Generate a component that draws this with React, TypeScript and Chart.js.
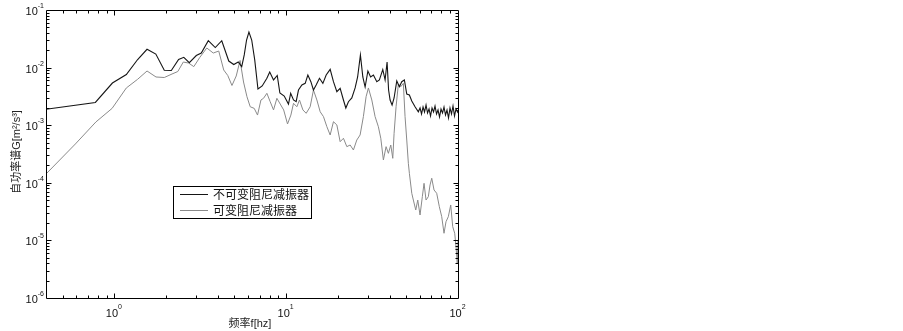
import React, { useEffect, useRef } from "react";
import { Chart, registerables } from "chart.js";

Chart.register(...registerables);

// ---------------- data ----------------
const seriesNames = ["不可变阻尼减振器", "可变阻尼减振器"];
const xTitle = "频率f[hz]";
const yTitle = "自功率谱G[m²/s³]";
const xTickExponents = [0, 1, 2];
const yTickExponents = [-6, -5, -4, -3, -2, -1];
const xRange = [0.4, 100];
const yRange = [1e-6, 1e-1];

// 不可变阻尼减振器 (dark line)
const fixedFreq = [
  0.4, 0.775, 0.974, 1.174, 1.366, 1.549, 1.743, 1.952, 2.145, 2.365,
  2.536, 2.729, 2.998, 3.205, 3.521, 3.866, 4.217, 4.632, 4.953, 5.26,
  5.51, 5.7, 5.88, 6.07, 6.3, 6.56, 6.85, 7.25, 7.72, 8.02,
  8.44, 8.87, 9.19, 9.74, 10.31, 10.62, 11.03, 11.43, 11.79, 12.34,
  12.9, 13.37, 13.92, 14.41, 14.94, 15.62, 16.35, 17.09, 18.03, 18.84,
  19.72, 20.61, 21.54, 22.24, 23.03, 24.1, 25.19, 26.05, 27.04, 27.93,
  28.8, 29.89, 31.0, 32.19, 33.68, 34.87, 36.49, 37.64, 38.66, 39.45,
  40.25, 41.34, 42.46, 44.02, 45.58, 47.07, 48.74, 50.32, 52.12, 53.82,
  56.23, 58.77,
  60.13, 61.35, 62.6, 63.86, 65.16, 66.48, 67.83, 69.2, 70.6, 72.04,
  73.5, 74.99, 76.51, 78.06, 79.64, 81.26, 82.9, 84.58, 86.3, 88.06,
  89.84, 91.66, 93.52, 95.43, 97.36, 99.33, 100,
];
const fixedPsd = [
  1.89e-3, 2.48e-3, 5.4e-3, 7.59e-3, 1.38e-2, 2.08e-2, 1.72e-2, 8.97e-3, 8.91e-3, 1.38e-2,
  1.51e-2, 1.22e-2, 1.62e-2, 1.79e-2, 2.93e-2, 2.23e-2, 2.93e-2, 1.3e-2, 1.13e-2, 1.25e-2,
  1.04e-2, 1.66e-2, 3.01e-2, 4.15e-2, 3.01e-2, 1.36e-2, 4.25e-3, 4.8e-3, 6.52e-3, 8.4e-3,
  6.1e-3, 7.3e-3, 3.62e-3, 3.21e-3, 2.33e-3, 3.58e-3, 2.74e-3, 2.56e-3, 4.08e-3, 4.99e-3,
  5.33e-3, 7.45e-3, 5.69e-3, 4.08e-3, 4.99e-3, 6.52e-3, 5.33e-3, 7.45e-3, 9.34e-3, 5.69e-3,
  3.82e-3, 4.37e-3, 2.74e-3, 1.99e-3, 2.56e-3, 2.97e-3, 4.43e-3, 6.87e-3, 1.66e-2, 6.87e-3,
  4.6e-3, 8.73e-3, 6.87e-3, 7.45e-3, 5.69e-3, 6.1e-3, 9.27e-3, 6.1e-3, 1.25e-2, 4.08e-3,
  2.74e-3, 2.24e-3, 2.97e-3, 5.85e-3, 4.66e-3, 5.69e-3, 6.1e-3, 3.48e-3, 3.34e-3, 2.63e-3,
  2.09e-3, 1.71e-3,
  1.99e-3, 1.565e-3, 2.07e-3, 1.695e-3, 2.243e-3, 1.628e-3, 1.911e-3, 1.444e-3, 1.99e-3, 1.695e-3,
  2.154e-3, 1.565e-3, 1.836e-3, 1.388e-3, 1.911e-3, 1.628e-3, 2.07e-3, 1.503e-3, 1.836e-3, 1.334e-3,
  1.99e-3, 1.565e-3, 2.154e-3, 1.444e-3, 1.911e-3, 1.695e-3, 1.836e-3,
];

// 可变阻尼减振器 (gray line)
const variableFreq = [
  0.4, 0.593, 0.781, 0.97, 1.174, 1.366, 1.549, 1.747, 1.952, 2.165,
  2.34, 2.519, 2.704, 2.9, 3.14, 3.45, 3.764, 4.05, 4.33, 4.57,
  4.835, 5.12, 5.39, 5.647, 5.91, 6.175, 6.516, 6.81, 7.13, 7.38,
  7.72, 8.07, 8.44, 8.83, 9.23, 9.67, 10.18, 10.65, 11.03, 11.54,
  11.95, 12.51, 13.07, 13.79, 14.41, 15.09, 15.77, 16.48, 17.25, 18.03,
  18.84, 19.72, 20.61, 21.54, 22.54, 23.56, 24.62, 25.76, 26.93, 28.14,
  29.18, 30.1, 31.5, 32.92, 34.4, 35.53, 36.79, 38.14, 39.34, 40.62,
  41.72, 42.46, 43.61, 44.98, 46.44, 48.08, 49.19, 50.32, 51.41, 52.12,
  53.82, 54.97, 56.77, 58.31, 60.13, 62.0, 63.43, 65.16, 67.2, 68.75,
  70.33, 72.53, 75.17, 77.87, 80.4, 82.9, 85.16, 87.83, 90.71, 93.16,
  95.68, 97.36, 99.06, 100,
];
const variablePsd = [
  1.42e-4, 4.72e-4, 1.14e-3, 1.96e-3, 4.43e-3, 6.27e-3, 8.73e-3, 6.87e-3, 6.73e-3, 7.74e-3,
  8.55e-3, 1.25e-2, 1.2e-2, 1.04e-2, 1.5e-2, 2.19e-2, 1.79e-2, 1.94e-2, 9.08e-3, 7.3e-3,
  4.89e-3, 7.15e-3, 1.33e-2, 5.62e-3, 3.13e-3, 2.09e-3, 1.96e-3, 1.5e-3, 2.74e-3, 2.93e-3,
  3.58e-3, 2.56e-3, 1.84e-3, 2.93e-3, 2.33e-3, 1.84e-3, 1.05e-3, 1.5e-3, 2.4e-3, 2.09e-3,
  2.74e-3, 1.84e-3, 1.61e-3, 2.09e-3, 4.08e-3, 2.74e-3, 1.71e-3, 1.41e-3, 9.42e-4, 6.76e-4,
  1.15e-3, 1.01e-3, 5.17e-4, 5.93e-4, 4.24e-4, 4.53e-4, 3.71e-4, 5.53e-4, 6.76e-4, 1.41e-3,
  3.13e-3, 4.43e-3, 2.74e-3, 1.41e-3, 9.42e-4, 5.93e-4, 2.49e-4, 4.24e-4, 3.25e-4, 4.53e-4,
  2.66e-4, 7.23e-4, 2.09e-3, 5.19e-3, 4.66e-3, 5.33e-3, 1.41e-3, 5.53e-4, 2.18e-4, 1.46e-4,
  6.58e-5, 5.02e-5, 3.37e-5, 5.02e-5, 2.76e-5, 5.74e-5, 9.8e-5, 5.02e-5, 5.74e-5, 9.16e-5,
  1.2e-4, 7.5e-5, 6.58e-5, 3.85e-5, 2.58e-5, 1.33e-5, 2.11e-5, 2.58e-5, 4.12e-5, 1.73e-5,
  1.33e-5, 7.78e-6, 4.0e-6, 1.02e-5,
];

const seriesColors = ["#151515", "#8a8a8a"];

// ---------------- drawing helpers ----------------
const LATIN = "'Liberation Sans', Arial, sans-serif";
const MIXED = "'Liberation Sans', 'Noto Sans CJK SC', sans-serif";
const CJK = "'Noto Sans CJK SC', sans-serif";

function minorValues(min: number, max: number): number[] {
  const out: number[] = [];
  const e0 = Math.floor(Math.log10(min)) - 1;
  const e1 = Math.ceil(Math.log10(max)) + 1;
  for (let e = e0; e <= e1; e++) {
    for (let m = 1; m <= 9; m++) {
      const v = m * Math.pow(10, e);
      if (v > min * 1.0001 && v < max * 0.9999) out.push(v);
    }
  }
  return out;
}

function expText(e: number) {
  return String(e).replace("-", "-");
}

const decorPlugin = {
  id: "matlabDecor",
  afterDraw(chart: any) {
    const ctx: CanvasRenderingContext2D = chart.ctx;
    const { left, right, top, bottom } = chart.chartArea;
    const xs = chart.scales.x;
    const ys = chart.scales.y;
    const L = Math.round(left) + 0.5;
    const R = Math.round(right) + 0.5;
    const T = Math.round(top) + 0.5;
    const B = Math.round(bottom) + 0.5;

    ctx.save();
    ctx.strokeStyle = "#000";
    ctx.lineWidth = 1;
    ctx.beginPath();
    ctx.rect(L, T, R - L, B - T);
    ctx.stroke();

    const majorX = xTickExponents.map((e) => Math.pow(10, e));
    const majorY = yTickExponents.map((e) => Math.pow(10, e));
    const isMajor = (v: number, list: number[]) =>
      list.some((m) => Math.abs(v / m - 1) < 1e-6);

    // x ticks (bottom + top), inward
    ctx.beginPath();
    minorValues(xRange[0], xRange[1]).forEach((v) => {
      const len = isMajor(v, majorX) ? 5 : 3;
      const px = Math.round(xs.getPixelForValue(v)) + 0.5;
      ctx.moveTo(px, B);
      ctx.lineTo(px, B - len);
      ctx.moveTo(px, T);
      ctx.lineTo(px, T + len);
    });
    // y ticks (left + right), inward
    minorValues(yRange[0], yRange[1]).forEach((v) => {
      const len = isMajor(v, majorY) ? 5 : 3;
      const py = Math.round(ys.getPixelForValue(v)) + 0.5;
      ctx.moveTo(L, py);
      ctx.lineTo(L + len, py);
      ctx.moveTo(R, py);
      ctx.lineTo(R - len, py);
    });
    ctx.stroke();

    // tick labels
    ctx.fillStyle = "#111";
    const baseFont = "11px " + LATIN;
    const supFont = "7px " + LATIN;
    xTickExponents.forEach((e) => {
      const px = xs.getPixelForValue(Math.pow(10, e));
      ctx.font = baseFont;
      const w10 = ctx.measureText("10").width;
      ctx.font = supFont;
      const we = ctx.measureText(expText(e)).width;
      const x0 = px - (w10 + we) / 2 - 0.5;
      ctx.textAlign = "left";
      ctx.textBaseline = "alphabetic";
      ctx.font = baseFont;
      ctx.fillText("10", x0, 317);
      ctx.font = supFont;
      ctx.fillText(expText(e), x0 + w10, 309);
    });
    yTickExponents.forEach((e) => {
      const py = ys.getPixelForValue(Math.pow(10, e));
      ctx.font = supFont;
      const we = ctx.measureText(expText(e)).width;
      const xEnd = 44;
      ctx.textAlign = "left";
      ctx.textBaseline = "alphabetic";
      ctx.fillText(expText(e), xEnd - we, py - 2);
      ctx.font = baseFont;
      const w10 = ctx.measureText("10").width;
      ctx.fillText("10", xEnd - we - w10, py + 5);
    });

    // axis titles
    ctx.fillStyle = "#222";
    ctx.font = "11px " + MIXED;
    ctx.textAlign = "center";
    ctx.textBaseline = "middle";
    ctx.fillText(xTitle, (left + right) / 2 - 2, 324);
    ctx.save();
    ctx.translate(17, 152);
    ctx.rotate(-Math.PI / 2);
    ctx.fillText(yTitle, 0, 0);
    ctx.restore();

    // legend
    const bx = 173.5, by = 186.5, bw = 138, bh = 32;
    ctx.fillStyle = "#fff";
    ctx.fillRect(bx, by, bw, bh);
    ctx.strokeStyle = "#000";
    ctx.lineWidth = 1;
    ctx.strokeRect(bx, by, bw, bh);
    chart.data.datasets.forEach((ds: any, i: number) => {
      const ly = 194.5 + i * 16;
      ctx.strokeStyle = ds.borderColor;
      ctx.lineWidth = 1;
      ctx.beginPath();
      ctx.moveTo(180, ly);
      ctx.lineTo(208, ly);
      ctx.stroke();
      ctx.fillStyle = "#111";
      ctx.font = "12px " + CJK;
      ctx.textAlign = "left";
      ctx.textBaseline = "middle";
      ctx.fillText(ds.label, 213, ly);
    });
    ctx.restore();
  },
};

export default function App() {
  const ref = useRef<HTMLCanvasElement>(null);
  useEffect(() => {
    if (!ref.current) return;
    const chart = new Chart(ref.current, {
      type: "line",
      data: {
        datasets: [
          {
            label: seriesNames[0],
            data: fixedFreq.map((f, i) => ({ x: f, y: fixedPsd[i] })),
            borderColor: seriesColors[0],
            borderWidth: 1.1,
            pointRadius: 0,
            tension: 0,
            fill: false,
          },
          {
            label: seriesNames[1],
            data: variableFreq.map((f, i) => ({ x: f, y: variablePsd[i] })),
            borderColor: seriesColors[1],
            borderWidth: 1,
            pointRadius: 0,
            tension: 0,
            fill: false,
          },
        ],
      },
      options: {
        responsive: false,
        devicePixelRatio: 1,
        animation: false,
        layout: { padding: { left: 46, top: 10, right: 445, bottom: 33 } },
        plugins: {
          legend: { display: false },
          tooltip: { enabled: false },
        },
        scales: {
          x: { type: "logarithmic", min: xRange[0], max: xRange[1], display: false },
          y: { type: "logarithmic", min: yRange[0], max: yRange[1], display: false },
        },
      },
      plugins: [decorPlugin],
    } as any);
    return () => chart.destroy();
  }, []);
  return (
    <div
      style={{
        position: "fixed",
        left: 0,
        top: 0,
        width: 903,
        height: 331,
        background: "#fff",
      }}
    >
      <canvas ref={ref} width={903} height={331} style={{ display: "block" }} />
    </div>
  );
}
